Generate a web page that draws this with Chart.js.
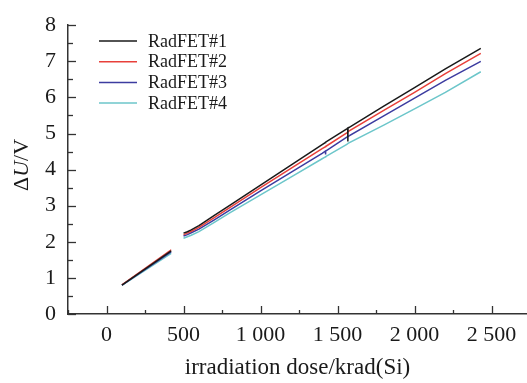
<!DOCTYPE html>
<html>
<head>
<meta charset="utf-8">
<script src="https://cdn.jsdelivr.net/npm/chart.js@4.4.0/dist/chart.umd.min.js"></script>
<style>
  html, body { margin: 0; padding: 0; background: #fff; overflow: hidden; }
  #wrap { width: 527px; height: 383px; position: relative; }
</style>
</head>
<body>
<div id="wrap"><canvas id="chart"></canvas></div>
<script>
// values
const dose = [100, 420, 460, 500, 525, 550, 600, 700, 800, 1000, 1200, 1400, 1421, 1422, 1423, 1560, 1566, 1567, 1568, 1800, 2000, 2200, 2430];
const rad1 = [0.80, 1.75, null, 2.24, 2.28, 2.33, 2.45, 2.73, 3.01, 3.57, 4.13, 4.69, 4.75, 4.75, 4.76, 5.13, 5.15, 4.78, 5.15, 5.76, 6.27, 6.79, 7.36];
const rad2 = [0.81, 1.78, null, 2.20, 2.24, 2.29, 2.40, 2.67, 2.95, 3.50, 4.04, 4.58, 4.63, 4.64, 4.64, 5.02, 5.04, 5.04, 5.05, 5.64, 6.14, 6.66, 7.22];
const rad3 = [0.80, 1.72, null, 2.16, 2.20, 2.25, 2.35, 2.61, 2.88, 3.41, 3.93, 4.45, 4.51, 4.42, 4.51, 4.90, 4.92, 4.92, 4.92, 5.49, 5.98, 6.47, 7.00];
const rad4 = [0.79, 1.68, null, 2.10, 2.14, 2.18, 2.28, 2.54, 2.80, 3.30, 3.80, 4.30, 4.35, 4.35, 4.36, 4.70, 4.72, 4.72, 4.73, 5.23, 5.68, 6.14, 6.71];
const xTicks = [0, 500, 1000, 1500, 2000, 2500];
const xLabels = ['0', '500', '1 000', '1 500', '2 000', '2 500'];
const names = ['RadFET#1', 'RadFET#2', 'RadFET#3', 'RadFET#4'];
const colors = ['#1a1a1a', '#e8403a', '#3c3ca0', '#6cc6ca'];

const serif = "'Liberation Serif', 'Times New Roman', serif";

function pts(vals) {
    let out = [];
    for (let i = 0; i < dose.length; i++) {
        out.push({ x: dose[i], y: vals[i] });
    }
    return out;
}

// inward tick marks, x labels, legend and axis titles
const extras = {
    id: 'extras',
    afterDraw(chart) {
        const ctx = chart.ctx;
        const xs = chart.scales.x;
        const ys = chart.scales.y;
        const area = chart.chartArea;
        ctx.save();
        ctx.strokeStyle = '#333';
        ctx.lineWidth = 1.3;
        for (let v = -250; v <= 2730; v += 250) {
            let px = Math.round(xs.getPixelForValue(v)) + 0.5;
            let len = (v % 500 === 0) ? 8 : 4;
            ctx.beginPath();
            ctx.moveTo(px, area.bottom);
            ctx.lineTo(px, area.bottom - len);
            ctx.stroke();
        }
        for (let v = 0; v <= 8; v += 0.5) {
            let py = Math.round(ys.getPixelForValue(v)) + 0.5;
            let len = (v % 1 === 0) ? 8 : 5;
            ctx.beginPath();
            ctx.moveTo(area.left, py);
            ctx.lineTo(area.left + len, py);
            ctx.stroke();
        }

        ctx.fillStyle = '#1a1a1a';
        ctx.font = '22px ' + serif;
        ctx.textAlign = 'center';
        ctx.textBaseline = 'middle';
        for (let i = 0; i < xTicks.length; i++) {
            ctx.fillText(xLabels[i], xs.getPixelForValue(xTicks[i]), area.bottom + 21);
        }

        // legend
        ctx.font = '18px ' + serif;
        ctx.textAlign = 'left';
        for (let i = 0; i < names.length; i++) {
            let y = 41 + i * 20.7;
            ctx.strokeStyle = colors[i];
            ctx.lineWidth = 1.5;
            ctx.beginPath();
            ctx.moveTo(99, y);
            ctx.lineTo(137, y);
            ctx.stroke();
            ctx.fillText(names[i], 148, y + 1);
        }

        // x title
        ctx.font = '23px ' + serif;
        ctx.textAlign = 'center';
        ctx.textBaseline = 'alphabetic';
        ctx.fillText('irradiation dose/krad(Si)', (area.left + chart.width) / 2, 374);

        // y title with italic U
        ctx.translate(28, 165);
        ctx.rotate(-Math.PI / 2);
        const parts = [['Δ', '22px ' + serif], ['U', 'italic 22px ' + serif], ['/V', '22px ' + serif]];
        let total = 0;
        for (const p of parts) { ctx.font = p[1]; total += ctx.measureText(p[0]).width; }
        let x = -total / 2;
        ctx.textAlign = 'left';
        for (const p of parts) {
            ctx.font = p[1];
            ctx.fillText(p[0], x, 0);
            x += ctx.measureText(p[0]).width;
        }
        ctx.restore();
    }
};

const datasets = [rad1, rad2, rad3, rad4].map(function (vals, i) {
    return {
        label: names[i],
        data: pts(vals),
        borderColor: colors[i],
        backgroundColor: colors[i],
        borderWidth: 1.5,
        pointRadius: 0,
        tension: 0,
        spanGaps: false
    };
});

new Chart(document.getElementById('chart'), {
    type: 'line',
    data: { datasets: datasets },
    options: {
        responsive: true,
        maintainAspectRatio: false,
        animation: false,
        layout: { padding: { top: 17, right: 0, left: 0, bottom: 0 } },
        plugins: { legend: { display: false }, tooltip: { enabled: false } },
        scales: {
            x: {
                type: 'linear',
                min: -250,
                max: 2730,
                afterFit(scale) { scale.height = 69; },
                grid: { display: false, drawTicks: false },
                border: { display: true, color: '#333', width: 1.5 },
                ticks: { display: false, stepSize: 250 }
            },
            y: {
                min: 0,
                max: 8,
                afterFit(scale) { scale.width = 68; },
                grid: { display: false, drawTicks: false },
                border: { display: true, color: '#333', width: 1.5 },
                ticks: {
                    stepSize: 0.5,
                    autoSkip: false,
                    padding: 12,
                    color: '#1a1a1a',
                    font: { family: serif, size: 22 },
                    callback: function (v) { return v % 1 === 0 ? String(v) : ''; }
                }
            }
        }
    },
    plugins: [extras]
});
</script>
</body>
</html>
